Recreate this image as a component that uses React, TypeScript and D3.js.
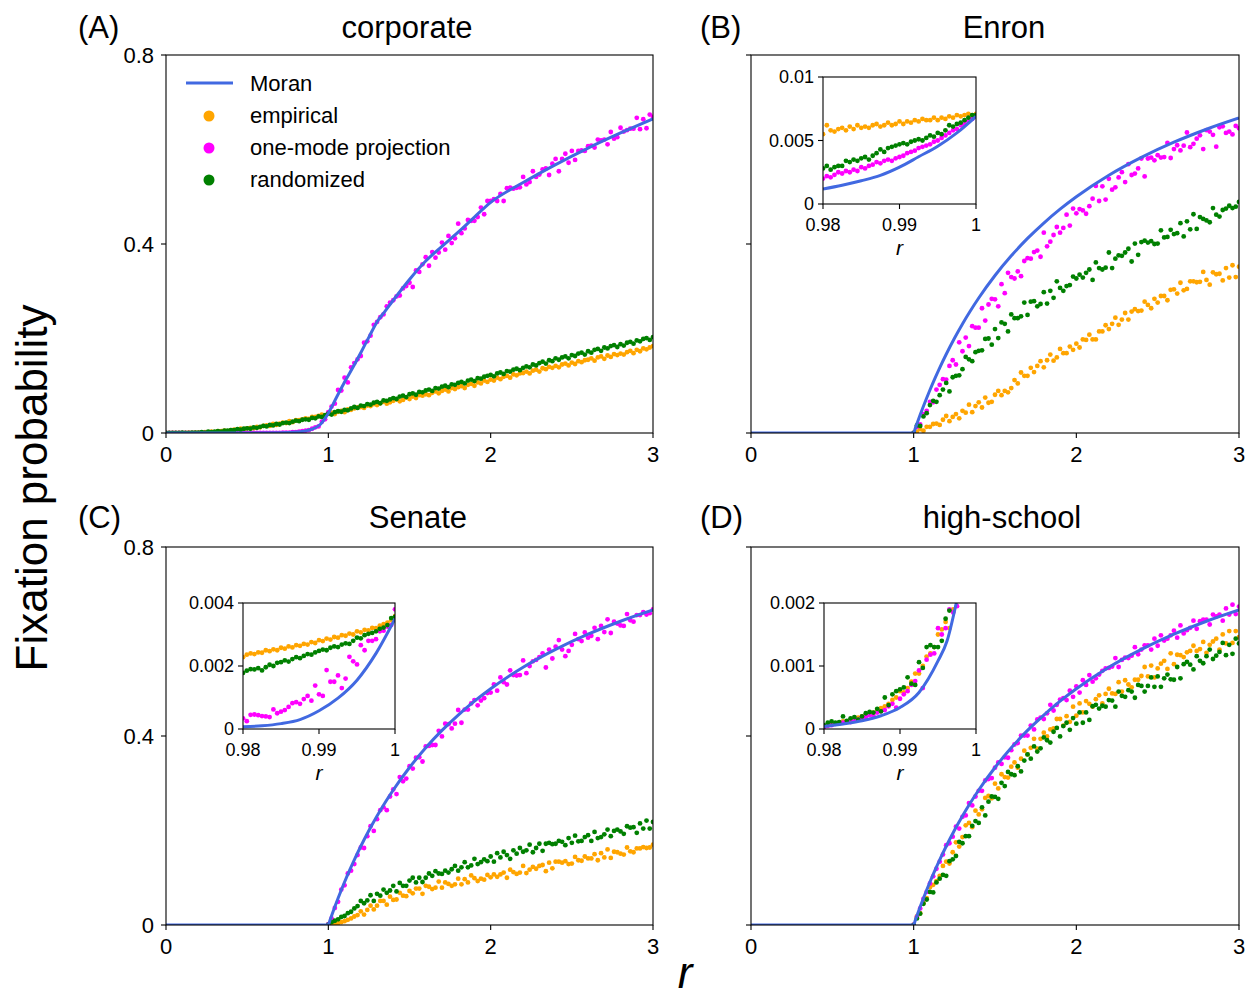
import React from 'react';
import * as d3 from 'd3';

// sampling grids of r
const rAll = d3.range(0, 151).map(i => i * 0.02); // 0 .. 3
const rUpper = d3.range(50, 151).map(i => i * 0.02); // 1 .. 3
const rInset = d3.range(0, 41).map(i => 0.98 + i * 0.0005); // 0.98 .. 1

const xTicks = [0, 1, 2, 3];
const yTicks = [0, 0.4, 0.8];
const yTickLabels = ['0', '0.4', '0.8'];
const insetXTicks = [0.98, 0.99, 1];
const insetXTickLabels = ['0.98', '0.99', '1'];

const legendLabels = ['Moran', 'empirical', 'one-mode projection', 'randomized'];

// ---------- (A) corporate, r = 0..3 ----------
const corpEmpirical = [
  0, 0, 0, 0, 0, 0, 0, 0.001, 0, 0.001,
  0.001, 0.001, 0.002, 0.002, 0.003, 0.002, 0.004, 0.004, 0.005, 0.004,
  0.006, 0.007, 0.006, 0.009, 0.008, 0.010, 0.011, 0.010, 0.013, 0.012,
  0.015, 0.016, 0.015, 0.019, 0.017, 0.020, 0.022, 0.021, 0.025, 0.023,
  0.027, 0.027, 0.029, 0.031, 0.030, 0.034, 0.034, 0.036, 0.039, 0.037,
  0.041, 0.043, 0.040, 0.045, 0.047, 0.044, 0.050, 0.049, 0.052, 0.054,
  0.055, 0.053, 0.058, 0.057, 0.061, 0.059, 0.063, 0.066, 0.062, 0.065,
  0.068, 0.071, 0.067, 0.070, 0.075, 0.072, 0.077, 0.074, 0.080, 0.079,
  0.082, 0.080, 0.085, 0.088, 0.084, 0.089, 0.092, 0.088, 0.095, 0.093,
  0.097, 0.099, 0.095, 0.102, 0.104, 0.100, 0.107, 0.105, 0.111, 0.108,
  0.113, 0.111, 0.117, 0.114, 0.119, 0.121, 0.117, 0.124, 0.122, 0.126,
  0.127, 0.130, 0.126, 0.132, 0.134, 0.130, 0.137, 0.135, 0.140, 0.138,
  0.142, 0.139, 0.145, 0.147, 0.143, 0.149, 0.146, 0.152, 0.150, 0.154,
  0.155, 0.158, 0.153, 0.160, 0.162, 0.157, 0.164, 0.161, 0.167, 0.165,
  0.168, 0.166, 0.171, 0.174, 0.169, 0.176, 0.173, 0.179, 0.177, 0.181,
  0.184,
];
const corpProjection = [
  0, 0, 0, 0, 0, 0, 0, 0, 0, 0,
  0, 0, 0, 0, 0, 0, 0, 0, 0, 0,
  0, 0, 0, 0, 0, 0, 0, 0, 0, 0,
  0, 0, 0, 0, 0, 0, 0.001, 0.001, 0.001, 0.002,
  0.002, 0.003, 0.004, 0.005, 0.006, 0.009, 0.012, 0.014, 0.024, 0.029,
  0.044, 0.056, 0.062, 0.091, 0.090, 0.117, 0.107, 0.139, 0.148, 0.156,
  0.163, 0.191, 0.194, 0.206, 0.229, 0.235, 0.245, 0.251, 0.268, 0.276,
  0.281, 0.289, 0.291, 0.306, 0.311, 0.318, 0.309, 0.344, 0.341, 0.357,
  0.372, 0.354, 0.383, 0.371, 0.382, 0.403, 0.388, 0.417, 0.402, 0.412,
  0.443, 0.423, 0.433, 0.451, 0.449, 0.449, 0.457, 0.477, 0.463, 0.491,
  0.491, 0.495, 0.491, 0.506, 0.491, 0.518, 0.519, 0.517, 0.519, 0.520,
  0.542, 0.526, 0.531, 0.554, 0.542, 0.547, 0.558, 0.560, 0.546, 0.570,
  0.580, 0.554, 0.580, 0.591, 0.572, 0.597, 0.578, 0.597, 0.598, 0.597,
  0.607, 0.608, 0.604, 0.621, 0.619, 0.621, 0.611, 0.637, 0.623, 0.626,
  0.646, 0.638, 0.641, 0.644, 0.644, 0.667, 0.643, 0.664, 0.645, 0.674,
  0.669,
];
const corpRandomized = [
  0, 0, 0, 0, 0, 0.001, 0, 0, 0.001, 0.001,
  0.001, 0.002, 0.001, 0.003, 0.002, 0.003, 0.004, 0.003, 0.005, 0.005,
  0.006, 0.006, 0.008, 0.007, 0.009, 0.010, 0.009, 0.012, 0.011, 0.013,
  0.015, 0.014, 0.017, 0.016, 0.019, 0.018, 0.021, 0.022, 0.021, 0.024,
  0.026, 0.025, 0.028, 0.029, 0.028, 0.032, 0.031, 0.035, 0.034, 0.038,
  0.041, 0.039, 0.044, 0.046, 0.045, 0.049, 0.048, 0.052, 0.055, 0.053,
  0.058, 0.057, 0.061, 0.060, 0.064, 0.066, 0.063, 0.069, 0.068, 0.071,
  0.074, 0.072, 0.077, 0.079, 0.076, 0.082, 0.084, 0.081, 0.087, 0.086,
  0.090, 0.092, 0.089, 0.095, 0.094, 0.098, 0.100, 0.097, 0.103, 0.102,
  0.106, 0.108, 0.105, 0.111, 0.113, 0.110, 0.116, 0.115, 0.119, 0.121,
  0.123, 0.120, 0.126, 0.128, 0.125, 0.131, 0.130, 0.134, 0.136, 0.133,
  0.138, 0.141, 0.139, 0.145, 0.143, 0.148, 0.151, 0.147, 0.154, 0.152,
  0.158, 0.155, 0.160, 0.162, 0.158, 0.165, 0.163, 0.168, 0.170, 0.166,
  0.173, 0.170, 0.176, 0.178, 0.174, 0.181, 0.179, 0.184, 0.186, 0.182,
  0.188, 0.185, 0.191, 0.193, 0.189, 0.196, 0.194, 0.199, 0.201, 0.197,
  0.203,
];
const corpMoranR = [0, 0.5, 0.7, 0.8, 0.85, 0.9, 0.95, 1.0, 1.05, 1.1, 1.15, 1.2, 1.25, 1.3, 1.35, 1.4, 1.5, 1.6, 1.7, 1.8, 1.9, 2.0, 2.2, 2.4, 2.6, 2.8, 3.0];
const corpMoran = [0, 0, 0.0005, 0.002, 0.004, 0.008, 0.018, 0.042, 0.075, 0.108, 0.138, 0.17, 0.203, 0.235, 0.258, 0.281, 0.325, 0.364, 0.395, 0.425, 0.457, 0.488, 0.53, 0.568, 0.603, 0.635, 0.665];

// Moran curve shared by the large networks
const moranR = [0, 1, 1.01, 1.02, 1.04, 1.06, 1.08, 1.1, 1.13, 1.16, 1.2, 1.25, 1.3, 1.35, 1.4, 1.5, 1.6, 1.7, 1.8, 1.9, 2, 2.2, 2.4, 2.6, 2.8, 3];
const moranP = [0, 0, 0.0099, 0.0196, 0.0385, 0.0566, 0.0741, 0.0909, 0.115, 0.1379, 0.1667, 0.2, 0.2308, 0.2593, 0.2857, 0.3333, 0.375, 0.4118, 0.4444, 0.4737, 0.5, 0.5455, 0.5833, 0.6154, 0.6429, 0.6667];

// ---------- (B) Enron, r = 1..3 ----------
const enronEmpirical = [
  0.000, 0.003, 0.008, 0.005, 0.013, 0.013, 0.019, 0.020, 0.017, 0.028,
  0.036, 0.025, 0.034, 0.040, 0.031, 0.047, 0.043, 0.060, 0.044, 0.057,
  0.065, 0.054, 0.075, 0.064, 0.066, 0.081, 0.089, 0.080, 0.089, 0.086,
  0.095, 0.112, 0.105, 0.128, 0.121, 0.121, 0.138, 0.129, 0.142, 0.152,
  0.139, 0.154, 0.166, 0.153, 0.160, 0.178, 0.169, 0.169, 0.183, 0.176,
  0.189, 0.181, 0.198, 0.197, 0.208, 0.198, 0.198, 0.215, 0.215, 0.228,
  0.220, 0.231, 0.244, 0.229, 0.240, 0.254, 0.240, 0.257, 0.262, 0.258,
  0.259, 0.278, 0.271, 0.264, 0.284, 0.276, 0.290, 0.290, 0.281, 0.303,
  0.304, 0.295, 0.318, 0.302, 0.305, 0.321, 0.321, 0.319, 0.320, 0.341,
  0.324, 0.314, 0.340, 0.336, 0.337, 0.323, 0.349, 0.329, 0.355, 0.330,
  0.352,
];
const enronProjection = [
  0.000, 0.013, 0.018, 0.040, 0.047, 0.066, 0.065, 0.092, 0.102, 0.114,
  0.113, 0.142, 0.154, 0.145, 0.192, 0.173, 0.202, 0.184, 0.226, 0.223,
  0.223, 0.264, 0.238, 0.272, 0.284, 0.283, 0.268, 0.315, 0.296, 0.339,
  0.330, 0.327, 0.342, 0.332, 0.364, 0.370, 0.369, 0.383, 0.386, 0.373,
  0.424, 0.395, 0.405, 0.419, 0.436, 0.424, 0.434, 0.462, 0.439, 0.475,
  0.465, 0.474, 0.471, 0.464, 0.480, 0.496, 0.523, 0.491, 0.522, 0.494,
  0.538, 0.515, 0.520, 0.541, 0.552, 0.531, 0.569, 0.546, 0.549, 0.560,
  0.581, 0.543, 0.581, 0.583, 0.577, 0.588, 0.583, 0.584, 0.614, 0.582,
  0.601, 0.609, 0.598, 0.608, 0.636, 0.605, 0.612, 0.623, 0.630, 0.601,
  0.641, 0.638, 0.631, 0.606, 0.647, 0.649, 0.635, 0.638, 0.632, 0.650,
  0.645,
];
const enronRandomized = [
  0.000, 0.016, 0.015, 0.035, 0.042, 0.059, 0.068, 0.066, 0.080, 0.092,
  0.106, 0.088, 0.118, 0.121, 0.122, 0.135, 0.161, 0.156, 0.152, 0.171,
  0.174, 0.175, 0.199, 0.200, 0.187, 0.220, 0.201, 0.234, 0.231, 0.215,
  0.251, 0.243, 0.243, 0.247, 0.276, 0.250, 0.278, 0.279, 0.268, 0.273,
  0.298, 0.274, 0.301, 0.286, 0.321, 0.307, 0.301, 0.311, 0.313, 0.331,
  0.327, 0.335, 0.329, 0.339, 0.346, 0.324, 0.361, 0.349, 0.346, 0.350,
  0.382, 0.349, 0.369, 0.376, 0.375, 0.382, 0.390, 0.363, 0.401, 0.377,
  0.404, 0.407, 0.403, 0.406, 0.400, 0.401, 0.429, 0.414, 0.415, 0.430,
  0.421, 0.423, 0.444, 0.416, 0.448, 0.431, 0.463, 0.432, 0.457, 0.453,
  0.450, 0.446, 0.476, 0.462, 0.458, 0.472, 0.475, 0.481, 0.476, 0.479,
  0.489,
];
// Enron inset, r = 0.98..1
const enronInsetEmpirical = [
  0.0055, 0.0062, 0.0058, 0.0057, 0.0059, 0.0060, 0.0058, 0.0061, 0.0059, 0.0062,
  0.0060, 0.0061, 0.0060, 0.0062, 0.0063, 0.0061, 0.0062, 0.0064, 0.0062, 0.0063,
  0.0065, 0.0063, 0.0065, 0.0064, 0.0066, 0.0065, 0.0067, 0.0066, 0.0066, 0.0068,
  0.0066, 0.0068, 0.0067, 0.0069, 0.0068, 0.0070, 0.0069, 0.0070, 0.0071, 0.0070,
  0.0071,
];
const enronInsetProjection = [
  0.0020, 0.0022, 0.0021, 0.0023, 0.0025, 0.0024, 0.0026, 0.0025, 0.0027, 0.0026,
  0.0029, 0.0028, 0.0030, 0.0031, 0.0033, 0.0032, 0.0034, 0.0035, 0.0034, 0.0036,
  0.0037, 0.0038, 0.0040, 0.0041, 0.0042, 0.0044, 0.0045, 0.0046, 0.0047, 0.0049,
  0.0050, 0.0052, 0.0054, 0.0056, 0.0058, 0.0059, 0.0062, 0.0063, 0.0065, 0.0067,
  0.0069,
];
const enronInsetRandomized = [
  0.0028, 0.0030, 0.0027, 0.0029, 0.0030, 0.0030, 0.0034, 0.0033, 0.0035, 0.0034,
  0.0036, 0.0037, 0.0035, 0.0038, 0.0040, 0.0043, 0.0041, 0.0044, 0.0045, 0.0046,
  0.0047, 0.0048, 0.0047, 0.0049, 0.0050, 0.0051, 0.0050, 0.0052, 0.0054, 0.0053,
  0.0056, 0.0055, 0.0058, 0.0062, 0.0061, 0.0063, 0.0064, 0.0066, 0.0068, 0.0070,
  0.0070,
];
const enronInsetMoranR = [0.98, 0.9825, 0.985, 0.9875, 0.99, 0.9925, 0.995, 0.9975, 1.0];
const enronInsetMoran = [0.00118, 0.00148, 0.00183, 0.00225, 0.0029, 0.00372, 0.00455, 0.0056, 0.0069];

// ---------- (C) Senate, r = 1..3 ----------
const senateEmpirical = [
  0.000, 0.002, 0.003, 0.004, 0.006, 0.008, 0.011, 0.014, 0.018, 0.021,
  0.029, 0.022, 0.032, 0.041, 0.033, 0.041, 0.051, 0.051, 0.043, 0.060,
  0.053, 0.054, 0.068, 0.062, 0.061, 0.072, 0.067, 0.077, 0.077, 0.066,
  0.083, 0.081, 0.076, 0.079, 0.092, 0.079, 0.090, 0.087, 0.083, 0.086,
  0.098, 0.086, 0.097, 0.090, 0.105, 0.099, 0.093, 0.098, 0.096, 0.106,
  0.101, 0.107, 0.102, 0.107, 0.111, 0.100, 0.117, 0.112, 0.108, 0.111,
  0.125, 0.110, 0.117, 0.123, 0.119, 0.125, 0.127, 0.114, 0.132, 0.120,
  0.134, 0.134, 0.132, 0.135, 0.129, 0.130, 0.144, 0.137, 0.136, 0.145,
  0.141, 0.141, 0.150, 0.137, 0.152, 0.143, 0.160, 0.142, 0.155, 0.154,
  0.151, 0.149, 0.164, 0.156, 0.154, 0.162, 0.162, 0.165, 0.163, 0.164,
  0.170,
];
const senateProjection = [
  0.002, 0.014, 0.036, 0.049, 0.075, 0.084, 0.109, 0.115, 0.129, 0.148,
  0.164, 0.163, 0.188, 0.209, 0.199, 0.224, 0.243, 0.249, 0.243, 0.272,
  0.287, 0.277, 0.313, 0.304, 0.310, 0.336, 0.331, 0.354, 0.355, 0.346,
  0.378, 0.379, 0.381, 0.381, 0.411, 0.399, 0.426, 0.425, 0.416, 0.426,
  0.455, 0.428, 0.456, 0.456, 0.469, 0.476, 0.465, 0.475, 0.480, 0.491,
  0.492, 0.509, 0.496, 0.524, 0.514, 0.509, 0.539, 0.529, 0.528, 0.529,
  0.560, 0.533, 0.548, 0.558, 0.561, 0.567, 0.575, 0.545, 0.583, 0.564,
  0.589, 0.603, 0.583, 0.569, 0.580, 0.593, 0.616, 0.605, 0.601, 0.619,
  0.608, 0.612, 0.629, 0.605, 0.633, 0.620, 0.647, 0.618, 0.642, 0.638,
  0.634, 0.633, 0.658, 0.645, 0.642, 0.656, 0.656, 0.662, 0.657, 0.660,
  0.668,
];
const senateRandomized = [
  0.001, 0.006, 0.009, 0.012, 0.017, 0.019, 0.025, 0.028, 0.035, 0.040,
  0.051, 0.046, 0.052, 0.063, 0.051, 0.066, 0.062, 0.075, 0.068, 0.073,
  0.083, 0.071, 0.089, 0.083, 0.083, 0.094, 0.100, 0.090, 0.100, 0.091,
  0.100, 0.109, 0.104, 0.114, 0.109, 0.108, 0.115, 0.111, 0.118, 0.125,
  0.115, 0.122, 0.133, 0.122, 0.126, 0.140, 0.129, 0.133, 0.139, 0.135,
  0.145, 0.134, 0.152, 0.143, 0.155, 0.148, 0.140, 0.158, 0.151, 0.163,
  0.155, 0.158, 0.170, 0.154, 0.163, 0.172, 0.157, 0.172, 0.174, 0.171,
  0.172, 0.178, 0.176, 0.169, 0.184, 0.174, 0.189, 0.177, 0.178, 0.186,
  0.190, 0.178, 0.197, 0.184, 0.186, 0.192, 0.202, 0.188, 0.199, 0.202,
  0.198, 0.193, 0.209, 0.206, 0.207, 0.195, 0.215, 0.204, 0.221, 0.204,
  0.218,
];
const senateInsetEmpirical = [
  0.00228, 0.00236, 0.00240, 0.00238, 0.00243, 0.00242, 0.00250, 0.00247, 0.00253, 0.00250,
  0.00258, 0.00255, 0.00262, 0.00259, 0.00266, 0.00264, 0.00270, 0.00268, 0.00276, 0.00273,
  0.00282, 0.00279, 0.00287, 0.00284, 0.00292, 0.00290, 0.00298, 0.00296, 0.00303, 0.00300,
  0.00310, 0.00307, 0.00315, 0.00313, 0.00321, 0.00320, 0.00328, 0.00333, 0.00338, 0.00345,
  0.00358,
];
const senateInsetProjection = [
  0.00034, 0.00025, 0.00045, 0.00046, 0.00044, 0.00041, 0.00040, 0.00038, 0.00062, 0.00050,
  0.00055, 0.00060, 0.00070, 0.00082, 0.00085, 0.00080, 0.00095, 0.00105, 0.00090, 0.00138,
  0.00110, 0.00105, 0.00187, 0.00150, 0.00150, 0.00170, 0.00130, 0.00160, 0.00229, 0.00215,
  0.00205, 0.00266, 0.00250, 0.00280, 0.00280, 0.00285, 0.00310, 0.00312, 0.00325, 0.00330,
  0.00380,
];
const senateInsetRandomized = [
  0.00178, 0.00185, 0.00190, 0.00189, 0.00193, 0.00186, 0.00196, 0.00204, 0.00200, 0.00210,
  0.00212, 0.00218, 0.00214, 0.00222, 0.00228, 0.00225, 0.00232, 0.00238, 0.00236, 0.00243,
  0.00248, 0.00252, 0.00250, 0.00258, 0.00262, 0.00260, 0.00268, 0.00272, 0.00270, 0.00280,
  0.00290, 0.00288, 0.00298, 0.00302, 0.00305, 0.00310, 0.00318, 0.00322, 0.00330, 0.00352,
  0.00356,
];
const senateInsetMoranR = [0.98, 0.9825, 0.985, 0.9875, 0.99, 0.9925, 0.995, 0.9975, 1.0];
const senateInsetMoran = [0.00007, 0.0001, 0.00017, 0.0003, 0.00058, 0.00098, 0.00155, 0.0024, 0.0035];

// ---------- (D) high-school, r = 1..3 ----------
const schoolEmpirical = [
  0.000, 0.018, 0.025, 0.046, 0.057, 0.080, 0.085, 0.093, 0.104, 0.125,
  0.134, 0.130, 0.154, 0.175, 0.166, 0.186, 0.211, 0.216, 0.207, 0.242,
  0.234, 0.245, 0.269, 0.273, 0.268, 0.299, 0.289, 0.319, 0.313, 0.312,
  0.335, 0.344, 0.333, 0.352, 0.369, 0.361, 0.375, 0.394, 0.373, 0.394,
  0.407, 0.399, 0.414, 0.416, 0.436, 0.436, 0.422, 0.442, 0.430, 0.462,
  0.443, 0.469, 0.450, 0.474, 0.468, 0.462, 0.478, 0.486, 0.469, 0.489,
  0.500, 0.490, 0.489, 0.514, 0.494, 0.518, 0.509, 0.503, 0.519, 0.519,
  0.527, 0.546, 0.526, 0.549, 0.524, 0.543, 0.553, 0.559, 0.542, 0.575,
  0.552, 0.572, 0.571, 0.567, 0.577, 0.580, 0.591, 0.580, 0.584, 0.599,
  0.576, 0.593, 0.600, 0.606, 0.583, 0.615, 0.596, 0.622, 0.597, 0.622,
  0.609,
];
const schoolProjection = [
  0.001, 0.017, 0.035, 0.055, 0.070, 0.088, 0.103, 0.119, 0.134, 0.149,
  0.169, 0.173, 0.187, 0.208, 0.204, 0.229, 0.232, 0.258, 0.253, 0.272,
  0.284, 0.284, 0.306, 0.309, 0.311, 0.333, 0.344, 0.341, 0.355, 0.354,
  0.370, 0.382, 0.385, 0.401, 0.401, 0.401, 0.422, 0.414, 0.435, 0.439,
  0.436, 0.448, 0.466, 0.454, 0.466, 0.477, 0.480, 0.476, 0.496, 0.483,
  0.505, 0.492, 0.518, 0.508, 0.529, 0.515, 0.522, 0.530, 0.538, 0.543,
  0.544, 0.547, 0.565, 0.546, 0.561, 0.566, 0.565, 0.570, 0.588, 0.573,
  0.583, 0.592, 0.592, 0.583, 0.606, 0.591, 0.613, 0.602, 0.606, 0.613,
  0.623, 0.608, 0.634, 0.617, 0.624, 0.629, 0.644, 0.627, 0.643, 0.646,
  0.646, 0.636, 0.657, 0.653, 0.657, 0.644, 0.670, 0.657, 0.678, 0.658,
  0.674,
];
const schoolRandomized = [
  0.000, 0.014, 0.024, 0.045, 0.054, 0.070, 0.069, 0.090, 0.098, 0.106,
  0.104, 0.135, 0.139, 0.146, 0.176, 0.173, 0.188, 0.188, 0.210, 0.220,
  0.216, 0.249, 0.232, 0.261, 0.272, 0.271, 0.267, 0.301, 0.294, 0.324,
  0.319, 0.317, 0.336, 0.325, 0.348, 0.361, 0.352, 0.378, 0.367, 0.374,
  0.397, 0.391, 0.386, 0.409, 0.417, 0.399, 0.421, 0.428, 0.413, 0.438,
  0.426, 0.450, 0.428, 0.450, 0.434, 0.463, 0.466, 0.458, 0.464, 0.462,
  0.476, 0.475, 0.462, 0.494, 0.485, 0.483, 0.497, 0.494, 0.481, 0.508,
  0.506, 0.494, 0.506, 0.524, 0.504, 0.526, 0.504, 0.522, 0.530, 0.520,
  0.519, 0.546, 0.522, 0.552, 0.557, 0.551, 0.541, 0.569, 0.559, 0.554,
  0.569, 0.583, 0.563, 0.570, 0.578, 0.597, 0.571, 0.593, 0.574, 0.606,
  0.596,
];
const schoolInsetEmpirical = [
  0.00004, 0.00006, 0.00007, 0.00009, 0.00010, 0.00012, 0.00012, 0.00014, 0.00016, 0.00018,
  0.00020, 0.00021, 0.00024, 0.00026, 0.00030, 0.00033, 0.00036, 0.00040, 0.00046, 0.00050,
  0.00060, 0.00058, 0.00065, 0.00075, 0.00088, 0.00088, 0.00100, 0.00115, 0.00120, 0.00130,
  0.00150, 0.00158, 0.00170, 0.00160, 0.00190, 0.00220, 0.00240, 0.00260, 0.00280, 0.00300,
  0.00320,
];
const schoolInsetProjection = [
  0.00003, 0.00005, 0.00006, 0.00008, 0.00009, 0.00010, 0.00012, 0.00011, 0.00014, 0.00015,
  0.00018, 0.00019, 0.00022, 0.00021, 0.00026, 0.00028, 0.00030, 0.00036, 0.00040, 0.00034,
  0.00048, 0.00055, 0.00060, 0.00070, 0.00076, 0.00093, 0.00065, 0.00110, 0.00118, 0.00120,
  0.00160, 0.00150, 0.00160, 0.00190, 0.00185, 0.00195, 0.00230, 0.00250, 0.00270, 0.00290,
  0.00310,
];
const schoolInsetRandomized = [
  0.00006, 0.00010, 0.00012, 0.00010, 0.00011, 0.00020, 0.00013, 0.00017, 0.00019, 0.00015,
  0.00020, 0.00025, 0.00027, 0.00026, 0.00032, 0.00028, 0.00050, 0.00038, 0.00055, 0.00060,
  0.00063, 0.00066, 0.00082, 0.00072, 0.00070, 0.00106, 0.00097, 0.00130, 0.00133, 0.00130,
  0.00130, 0.00140, 0.00175, 0.00188, 0.00215, 0.00230, 0.00250, 0.00270, 0.00290, 0.00310,
  0.00330,
];
const schoolInsetMoranR = [0.98, 0.9825, 0.985, 0.9875, 0.99, 0.9925, 0.995, 0.9962, 0.9975, 1.0];
const schoolInsetMoran = [0.00004, 0.00008, 0.00013, 0.00021, 0.00034, 0.00058, 0.00108, 0.0014, 0.00205, 0.0035];

const ORANGE = '#ffa500';
const MAGENTA = '#ff00ff';
const GREEN = '#008000';
const BLUE = '#4169e1';
const FONT = '"Liberation Sans", Arial, Helvetica, sans-serif';

type Box = [number, number, number, number];

interface InsetSpec {
  box: Box;
  yMax: number;
  yTicks: number[];
  yTickLabels: string[];
  emp: number[];
  proj: number[];
  rand: number[];
  moranR: number[];
  moran: number[];
}

interface PanelSpec {
  id: string;
  letter: string;
  letterX: number;
  title: string;
  titleX: number;
  baseline: number;
  box: Box;
  yLabels: boolean;
  rDots: number[];
  emp: number[];
  proj: number[];
  rand: number[];
  moranR: number[];
  moran: number[];
  legend?: boolean;
  inset?: InsetSpec;
}

const panels: PanelSpec[] = [
  {
    id: 'A', letter: '(A)', letterX: 78, title: 'corporate', titleX: 407, baseline: 38,
    box: [166, 55, 653, 433], yLabels: true, rDots: rAll,
    emp: corpEmpirical, proj: corpProjection, rand: corpRandomized,
    moranR: corpMoranR, moran: corpMoran, legend: true,
  },
  {
    id: 'B', letter: '(B)', letterX: 700, title: 'Enron', titleX: 1004, baseline: 38,
    box: [751, 55, 1239, 433], yLabels: false, rDots: rUpper,
    emp: enronEmpirical, proj: enronProjection, rand: enronRandomized,
    moranR, moran: moranP,
    inset: {
      box: [823, 77, 976, 204], yMax: 0.01, yTicks: [0, 0.005, 0.01], yTickLabels: ['0', '0.005', '0.01'],
      emp: enronInsetEmpirical, proj: enronInsetProjection, rand: enronInsetRandomized,
      moranR: enronInsetMoranR, moran: enronInsetMoran,
    },
  },
  {
    id: 'C', letter: '(C)', letterX: 78, title: 'Senate', titleX: 418, baseline: 528,
    box: [166, 547, 653, 925], yLabels: true, rDots: rUpper,
    emp: senateEmpirical, proj: senateProjection, rand: senateRandomized,
    moranR, moran: moranP,
    inset: {
      box: [243, 603, 395, 729], yMax: 0.004, yTicks: [0, 0.002, 0.004], yTickLabels: ['0', '0.002', '0.004'],
      emp: senateInsetEmpirical, proj: senateInsetProjection, rand: senateInsetRandomized,
      moranR: senateInsetMoranR, moran: senateInsetMoran,
    },
  },
  {
    id: 'D', letter: '(D)', letterX: 700, title: 'high-school', titleX: 1002, baseline: 528,
    box: [751, 547, 1239, 925], yLabels: false, rDots: rUpper,
    emp: schoolEmpirical, proj: schoolProjection, rand: schoolRandomized,
    moranR, moran: moranP,
    inset: {
      box: [824, 603, 976, 729], yMax: 0.002, yTicks: [0, 0.001, 0.002], yTickLabels: ['0', '0.001', '0.002'],
      emp: schoolInsetEmpirical, proj: schoolInsetProjection, rand: schoolInsetRandomized,
      moranR: schoolInsetMoranR, moran: schoolInsetMoran,
    },
  },
];

function Dots({ rs, vals, color, x, y, rad }: { rs: number[]; vals: number[]; color: string; x: (v: number) => number; y: (v: number) => number; rad: number }) {
  return (
    <g fill={color}>
      {vals.map((v, i) => (i < rs.length ? <circle key={i} cx={x(rs[i])} cy={y(v)} r={rad} /> : null))}
    </g>
  );
}

function Inset({ spec, id }: { spec: InsetSpec; id: string }) {
  const [l, t, r, b] = spec.box;
  const x = d3.scaleLinear().domain([0.98, 1]).range([l, r]);
  const y = d3.scaleLinear().domain([0, spec.yMax]).range([b, t]);
  const line = d3.line<number>().x((_, i) => x(spec.moranR[i])).y(d => y(d)).curve(d3.curveMonotoneX);
  const clip = `inset-clip-${id}`;
  return (
    <g>
      <rect x={l} y={t} width={r - l} height={b - t} fill="#fff" />
      <defs>
        <clipPath id={clip}>
          <rect x={l} y={t} width={r - l} height={b - t} />
        </clipPath>
      </defs>
      <g clipPath={`url(#${clip})`}>
        <Dots rs={rInset} vals={spec.emp} color={ORANGE} x={x} y={y} rad={2.4} />
        <Dots rs={rInset} vals={spec.proj} color={MAGENTA} x={x} y={y} rad={2.4} />
        <Dots rs={rInset} vals={spec.rand} color={GREEN} x={x} y={y} rad={2.4} />
        <path d={line(spec.moran) || ''} fill="none" stroke={BLUE} strokeWidth={3} />
      </g>
      <rect x={l} y={t} width={r - l} height={b - t} fill="none" stroke="#000" strokeWidth={1.1} />
      {insetXTicks.map((tv, i) => (
        <g key={`x${i}`}>
          <line x1={x(tv)} x2={x(tv)} y1={b} y2={b + 5} stroke="#000" strokeWidth={1.1} />
          <text x={x(tv)} y={b + 27} textAnchor="middle" fontSize={18}>{insetXTickLabels[i]}</text>
        </g>
      ))}
      {spec.yTicks.map((tv, i) => (
        <g key={`y${i}`}>
          <line x1={l - 5} x2={l} y1={y(tv)} y2={y(tv)} stroke="#000" strokeWidth={1.1} />
          <text x={l - 9} y={y(tv) + 6} textAnchor="end" fontSize={18}>{spec.yTickLabels[i]}</text>
        </g>
      ))}
      <text x={(l + r) / 2} y={b + 51} textAnchor="middle" fontSize={21} fontStyle="italic">r</text>
    </g>
  );
}

function Panel({ p }: { p: PanelSpec }) {
  const [l, t, r, b] = p.box;
  const x = d3.scaleLinear().domain([0, 3]).range([l, r]);
  const y = d3.scaleLinear().domain([0, 0.8]).range([b, t]);
  const line = d3.line<number>().x((_, i) => x(p.moranR[i])).y(d => y(d)).curve(d3.curveMonotoneX);
  const clip = `clip-${p.id}`;
  const legendColors = [ORANGE, MAGENTA, GREEN];
  return (
    <g>
      <defs>
        <clipPath id={clip}>
          <rect x={l} y={t} width={r - l} height={b - t} />
        </clipPath>
      </defs>
      <g clipPath={`url(#${clip})`}>
        <Dots rs={p.rDots} vals={p.emp} color={ORANGE} x={x} y={y} rad={2.4} />
        <Dots rs={p.rDots} vals={p.proj} color={MAGENTA} x={x} y={y} rad={2.4} />
        <Dots rs={p.rDots} vals={p.rand} color={GREEN} x={x} y={y} rad={2.4} />
        <path d={line(p.moran) || ''} fill="none" stroke={BLUE} strokeWidth={3} />
      </g>
      <rect x={l} y={t} width={r - l} height={b - t} fill="none" stroke="#000" strokeWidth={1.1} />
      {xTicks.map(tv => (
        <g key={`x${tv}`}>
          <line x1={x(tv)} x2={x(tv)} y1={b} y2={b + 5} stroke="#000" strokeWidth={1.1} />
          <text x={x(tv)} y={b + 29} textAnchor="middle" fontSize={22}>{tv}</text>
        </g>
      ))}
      {yTicks.map((tv, i) => (
        <g key={`y${i}`}>
          <line x1={l - 5} x2={l} y1={y(tv)} y2={y(tv)} stroke="#000" strokeWidth={1.1} />
          {p.yLabels && (
            <text x={l - 12} y={y(tv) + 8} textAnchor="end" fontSize={22}>{yTickLabels[i]}</text>
          )}
        </g>
      ))}
      <text x={p.letterX} y={p.baseline} fontSize={31}>{p.letter}</text>
      <text x={p.titleX} y={p.baseline} textAnchor="middle" fontSize={31}>{p.title}</text>
      {p.legend && (
        <g>
          <line x1={186} x2={233} y1={83} y2={83} stroke={BLUE} strokeWidth={3} />
          <text x={250} y={91} fontSize={22}>{legendLabels[0]}</text>
          {legendColors.map((c, i) => (
            <g key={c}>
              <circle cx={209} cy={116 + i * 32} r={5.5} fill={c} />
              <text x={250} y={123 + i * 32} fontSize={22}>{legendLabels[i + 1]}</text>
            </g>
          ))}
        </g>
      )}
      {p.inset && <Inset spec={p.inset} id={p.id} />}
    </g>
  );
}

export default function App() {
  return (
    <svg
      width={1247}
      height={996}
      style={{ position: 'absolute', left: 0, top: 0, background: '#fff' }}
      fontFamily={FONT}
    >
      <rect width={1247} height={996} fill="#fff" />
      {panels.map(p => <Panel key={p.id} p={p} />)}
      <text transform="translate(47,488) rotate(-90)" textAnchor="middle" fontSize={44}>Fixation probability</text>
      <text x={685} y={988} textAnchor="middle" fontSize={44} fontStyle="italic">r</text>
    </svg>
  );
}
